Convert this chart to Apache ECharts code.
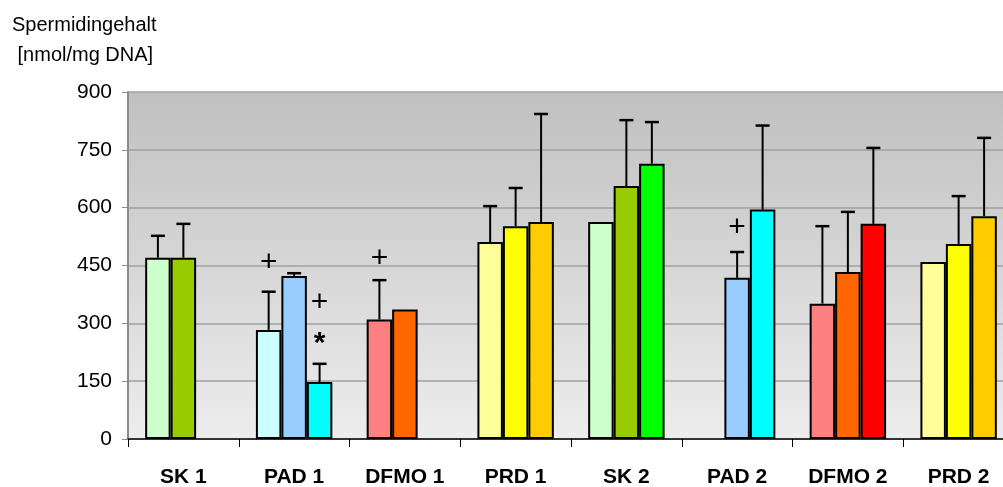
<!DOCTYPE html>
<html>
<head>
<meta charset="utf-8">
<script src="https://cdn.jsdelivr.net/npm/echarts@6/dist/echarts.min.js"></script>
<style>html,body{margin:0;padding:0;background:#fff}#c{width:1003px;height:487px}</style>
</head>
<body>
<div id="c"></div>
<script>
var categories = ['SK 1', 'PAD 1', 'DFMO 1', 'PRD 1', 'SK 2', 'PAD 2', 'DFMO 2', 'PRD 2'];
var yTicks = [0, 150, 300, 450, 600, 750, 900];
// three bar slots per group (null = no bar)
var slot1 = [470, 283, 310, 511, 563, null, 351, 459];
var slot2 = [470, 423, 336, 552, 656, 418, 433, 506];
var slot3 = [null, 148, null, 563, 714, 595, 558, 578];
// upper end of error bars (null = none)
var err1 = [527, 382, 412, 604, null, null, 552, null];
var err2 = [558, 430, null, 651, 827, 485, 589, 630];
var err3 = [null, 195, null, 843, 822, 813, 755, 781];
// colours per group (slot1, slot2, slot3)
var groupColors = {
  'SK': ['#CCFFCC', '#99CC00', '#00FF00'],
  'PAD': ['#CCFFFF', '#99CCFF', '#00FFFF'],
  'DFMO': ['#FF8080', '#FF6600', '#FF0000'],
  'PRD': ['#FFFF99', '#FFFF00', '#FFCC00']
};
// annotations: [category index, slot, value, text]
var annotations = [
  [1, 0, 458, '+'],
  [1, 2, 354, '+'],
  [1, 2, 248, '*'],
  [2, 0, 467, '+'],
  [5, 1, 549, '+']
];

var GAP = 0.31;
var FONT = '"Liberation Sans", Arial, sans-serif';
var GRID_W = 886;
var BAR_W = GRID_W / categories.length * (1 - GAP) / 3;

function colorFor(i, s) { return groupColors[categories[i].split(' ')[0]][s]; }

var slots = [slot1, slot2, slot3];
var errs = [err1, err2, err3];

var series = [];
slots.forEach(function (arr, s) {
  series.push({
    type: 'bar',
    name: 'slot' + (s + 1),
    barGap: '0%',
    barWidth: BAR_W,
    data: arr.map(function (v, i) {
      return v == null ? '-' : { value: v, itemStyle: { color: colorFor(i, s) } };
    }),
    itemStyle: { borderColor: '#000', borderWidth: 2 },
    z: 2
  });
});

function slotX(api, catIdx, slot) {
  return api.coord([catIdx, 0])[0] + (slot - 1) * BAR_W;
}

var errData = [];
errs.forEach(function (arr, s) {
  arr.forEach(function (e, i) {
    if (e != null && slots[s][i] != null) errData.push([i, slots[s][i], e, s]);
  });
});

series.push({
  type: 'custom',
  name: 'err',
  data: errData,
  encode: { x: 0, y: [1, 2] },
  z: 3,
  renderItem: function (params, api) {
    var i = api.value(0), v = api.value(1), e = api.value(2), s = api.value(3);
    var x = slotX(api, i, s);
    var y0 = api.coord([i, v])[1];
    var y1 = api.coord([i, e])[1];
    var cap = 7;
    return {
      type: 'group',
      children: [
        { type: 'line', shape: { x1: x, y1: y0, x2: x, y2: y1 }, style: { stroke: '#000', lineWidth: 2 } },
        { type: 'line', shape: { x1: x - cap, y1: y1, x2: x + cap, y2: y1 }, style: { stroke: '#000', lineWidth: 2.5 } }
      ]
    };
  }
});

series.push({
  type: 'custom',
  name: 'ann',
  data: annotations,
  encode: { x: 0, y: 2 },
  z: 4,
  renderItem: function (params, api) {
    var a = annotations[params.dataIndex];
    var x = slotX(api, a[0], a[1]);
    var y = api.coord([a[0], a[2]])[1];
    var star = a[3] === '*';
    return {
      type: 'text',
      x: x, y: y,
      style: {
        text: a[3], align: 'center', verticalAlign: 'middle',
        font: (star ? 'bold 30px ' : '30px ') + FONT, fill: '#000'
      }
    };
  }
});

var chart = echarts.init(document.getElementById('c'), null, { renderer: 'canvas' });
chart.setOption({
  animation: false,
  title: {
    text: 'Spermidingehalt\n [nmol/mg DNA]',
    left: 7, top: 5,
    textStyle: { fontFamily: FONT, fontSize: 20, fontWeight: 'normal', color: '#000', lineHeight: 30 }
  },
  grid: {
    left: 128, top: 92, bottom: 48, width: GRID_W,
    outerBoundsMode: 'none',
    containLabel: false,
    show: true, borderWidth: 0,
    backgroundColor: { type: 'linear', x: 0, y: 0, x2: 0, y2: 1,
      colorStops: [{ offset: 0, color: '#C0C0C0' }, { offset: 1, color: '#EDEDED' }] }
  },
  xAxis: {
    type: 'category',
    data: categories,
    axisLine: { lineStyle: { color: '#333', width: 2 } },
    axisTick: { show: true, length: 8, lineStyle: { color: '#000', width: 1 } },
    axisLabel: { fontFamily: FONT, fontSize: 21, fontWeight: 'bold', color: '#000', margin: 28 },
    splitLine: { show: false }
  },
  yAxis: {
    type: 'value',
    min: yTicks[0], max: yTicks[yTicks.length - 1], interval: yTicks[1] - yTicks[0],
    axisLine: { show: true, lineStyle: { color: '#8C8C8C', width: 2 } },
    axisTick: { show: true, length: 6, lineStyle: { color: '#8C8C8C', width: 1 } },
    axisLabel: { fontFamily: FONT, fontSize: 21, color: '#000', margin: 16 },
    splitLine: { show: true, lineStyle: { color: '#A0A0A0', width: 1.5 } }
  },
  series: series
});
</script>
</body>
</html>
